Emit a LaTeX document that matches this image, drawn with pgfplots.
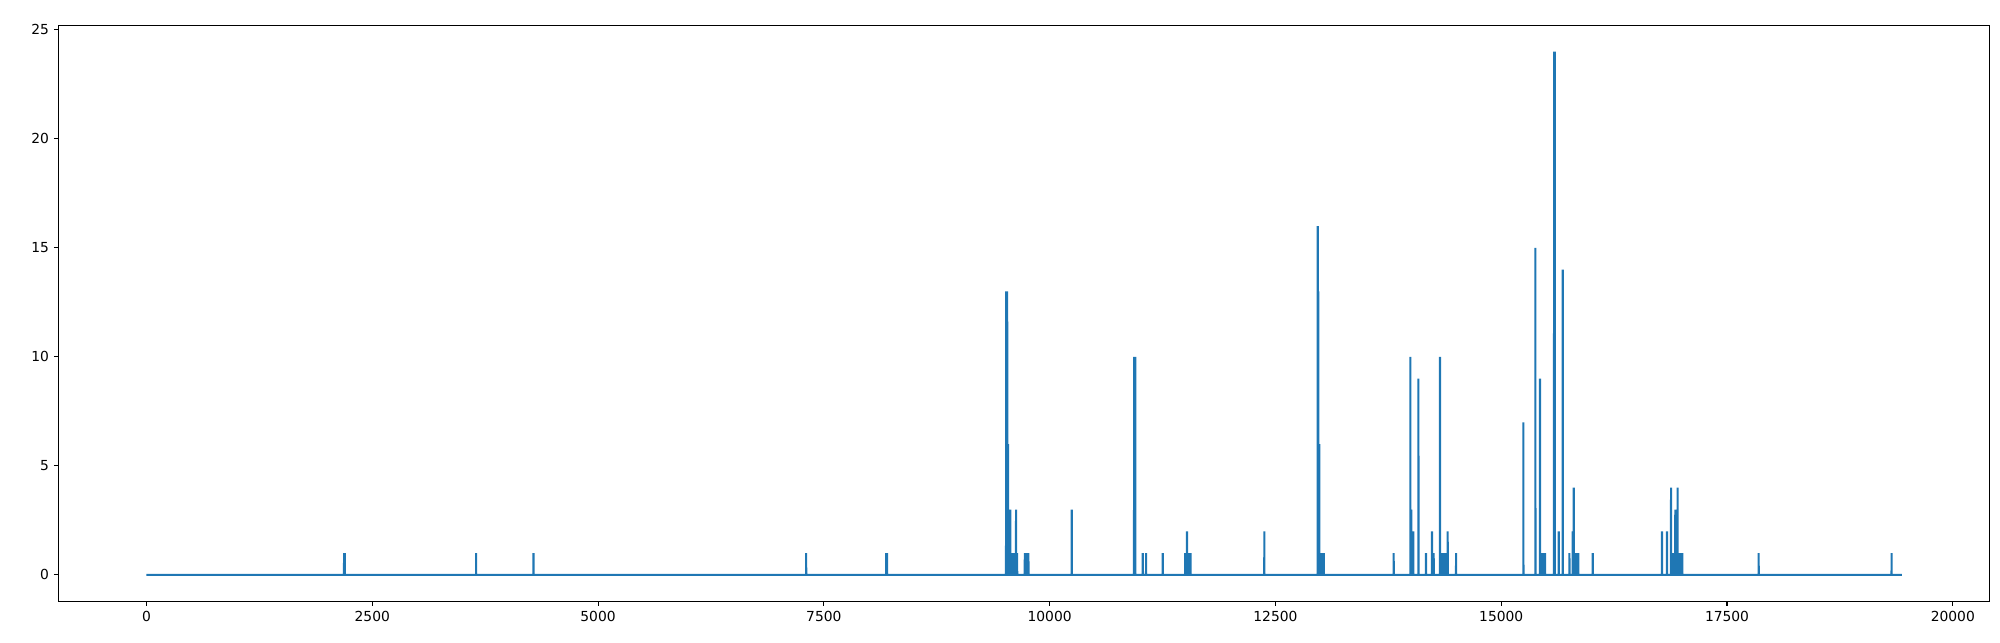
\documentclass[border=0pt]{standalone}
\usepackage{pgfplots}
\pgfplotsset{compat=1.18}
\usepackage{fontspec}
\setmainfont{DejaVu Sans}
\definecolor{mplblue}{HTML}{1F77B4}

\begin{document}
\begin{tikzpicture}
\begin{axis}[
    name=ax,
    scale only axis,
    width=1395.6pt,
    height=416pt,
    xmin=-972, xmax=20409,
    ymin=-1.2, ymax=25.2,
    xtick={0,2500,...,20000},
    ytick={0,5,...,25},
    scaled ticks=false,
    tick pos=left,
    tick align=outside,
    major tick length=3.5pt,
    tick style={black, line width=0.8pt},
    axis line style={black, line width=0.8pt},
    ticklabel style={font=\fontsize{10}{12}\selectfont},
    xticklabel style={yshift=-0.5pt},
    /pgf/number format/set thousands separator={},
    /pgf/number format/assume math mode=true,
]
\addplot[mplblue, line width=1.5pt, line join=miter] coordinates {
(0,0)
(2187,0)(2188,1)(2189,0)(2195,0)(2196,1)(2197,0)
(3649,0)(3650,1)(3651,0)
(4284,0)(4285,1)(4286,0)
(7303,0)(7304,1)(7305,0)
(8189,0)(8190,1)(8191,0)(8199,0)(8200,1)(8201,0)
(9517,0)(9518,13)(9519,0)(9529,0)(9530,13)(9531,0)
(9539,0)(9540,6)(9541,0)(9544,0)(9545,3)(9546,0)
(9554,0)(9555,1)(9556,0)(9564,0)(9565,3)(9566,0)
(9574,0)(9575,1)(9576,0)(9589,0)(9590,1)(9591,0)
(9599,0)(9600,1)(9601,0)(9627,0)(9628,3)(9629,0)
(9639,0)(9640,1)(9641,0)
(9724,0)(9725,1)(9726,0)(9745,0)(9746,1)(9747,0)(9764,0)(9765,1)(9766,0)
(10244,0)(10245,3)(10246,0)
(10934,0)(10935,10)(10936,0)(10947,0)(10948,10)(10949,0)
(11030,0)(11031,1)(11032,0)(11067,0)(11068,1)(11069,0)
(11251,0)(11252,1)(11253,0)
(11499,0)(11500,1)(11501,0)(11520,0)(11521,2)(11522,0)
(11539,0)(11540,1)(11541,0)(11559,0)(11560,1)(11561,0)
(12376,0)(12377,2)(12378,0)
(12967,0)(12968,16)(12969,0)(12974,0)(12975,13)(12976,0)
(12984,0)(12985,6)(12986,0)(13009,0)(13010,1)(13011,0)
(13022,0)(13023,1)(13024,0)(13034,0)(13035,1)(13036,0)
(13808,0)(13809,1)(13810,0)
(13993,0)(13994,10)(13995,0)(14004,0)(14005,3)(14006,0)
(14026,0)(14027,2)(14028,0)(14082,0)(14083,9)(14084,0)
(14166,0)(14167,1)(14168,0)
(14232,0)(14233,2)(14234,0)(14251,0)(14252,1)(14253,0)
(14321,0)(14322,10)(14323,0)(14343,0)(14344,1)(14345,0)
(14359,0)(14360,1)(14361,0)(14374,0)(14375,1)(14376,0)
(14389,0)(14390,1)(14391,0)(14406,0)(14407,2)(14408,0)
(14499,0)(14500,1)(14501,0)
(15244,0)(15245,7)(15246,0)
(15377,0)(15378,15)(15379,0)(15428,0)(15429,9)(15430,0)
(15454,0)(15455,1)(15456,0)(15469,0)(15470,1)(15471,0)
(15484,0)(15485,1)(15486,0)
(15584,0)(15585,24)(15586,0)(15592,0)(15593,24)(15594,0)
(15636,0)(15637,2)(15638,0)(15680,0)(15681,14)(15682,0)
(15754,0)(15755,1)(15756,0)(15790,0)(15791,2)(15792,0)
(15802,0)(15803,4)(15804,0)(15827,0)(15828,1)(15829,0)
(15839,0)(15840,1)(15841,0)(15852,0)(15853,1)(15854,0)
(16012,0)(16013,1)(16014,0)
(16779,0)(16780,2)(16781,0)(16834,0)(16835,2)(16836,0)
(16879,0)(16880,4)(16881,0)(16904,0)(16905,1)(16906,0)
(16917,0)(16918,1)(16919,0)(16926,0)(16927,3)(16928,0)
(16952,0)(16953,4)(16954,0)(16971,0)(16972,1)(16973,0)
(16989,0)(16990,1)(16991,0)(17004,0)(17005,1)(17006,0)
(17849,0)(17850,1)(17851,0)
(19321,0)(19322,1)(19323,0)
(19437,0)
};
\end{axis}
\path ([shift={(-42.4pt,-29.6pt)}]ax.south west) rectangle ([shift={(7.4pt,18.4pt)}]ax.north east);
\end{tikzpicture}
\end{document}
